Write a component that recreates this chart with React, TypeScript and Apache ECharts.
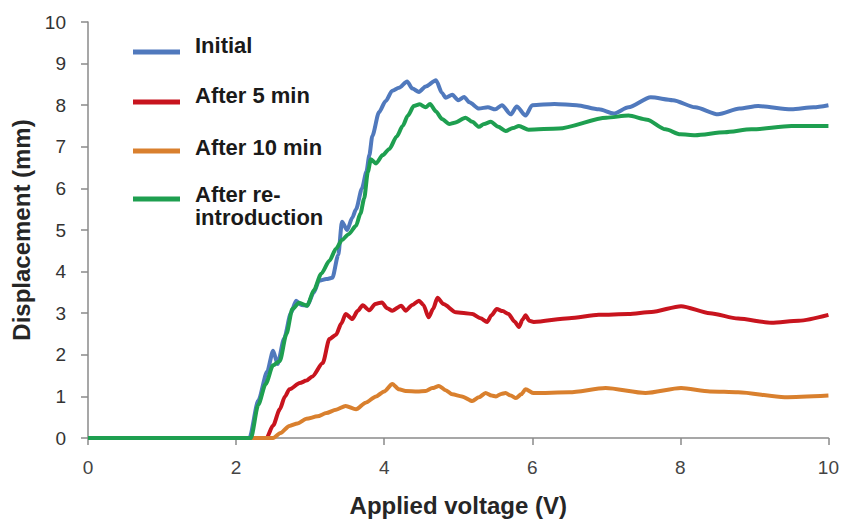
import React, { useEffect, useRef } from "react";
import * as echarts from "echarts";

// Displacement (mm) against applied voltage (V), as [V, mm] pairs
const initial: [number, number][] = [
  [0, 0], [2.18, 0], [2.3, 0.9], [2.42, 1.6], [2.5, 2.1], [2.56, 1.78], [2.65, 2.4], [2.74, 3.0],
  [2.81, 3.3], [2.88, 3.2], [2.96, 3.18], [3.05, 3.5], [3.12, 3.78], [3.22, 3.82], [3.3, 3.85],
  [3.38, 4.4], [3.43, 5.2], [3.5, 5.0], [3.57, 5.3], [3.62, 5.5], [3.7, 6.0], [3.76, 6.4],
  [3.8, 6.8], [3.84, 7.26], [3.93, 7.83], [4.02, 8.1], [4.11, 8.35], [4.2, 8.42], [4.31, 8.57],
  [4.38, 8.4], [4.47, 8.32], [4.56, 8.45], [4.7, 8.6], [4.78, 8.3], [4.83, 8.18], [4.92, 8.25],
  [5.0, 8.12], [5.08, 8.2], [5.15, 8.07], [5.28, 7.92], [5.4, 7.95], [5.5, 7.9], [5.59, 8.0],
  [5.71, 7.78], [5.79, 7.97], [5.91, 7.75], [6.0, 8.0], [6.3, 8.03], [6.6, 8.0], [6.9, 7.9],
  [7.1, 7.8], [7.3, 7.95], [7.6, 8.19], [7.9, 8.12], [8.2, 7.95], [8.51, 7.78], [8.8, 7.92],
  [9.05, 7.98], [9.5, 7.9], [9.8, 7.95], [10, 8.0],
];

const after5min: [number, number][] = [
  [0, 0], [2.41, 0], [2.5, 0.3], [2.59, 0.69], [2.66, 1.0], [2.72, 1.17], [2.86, 1.32],
  [2.95, 1.38], [3.03, 1.48], [3.17, 1.8], [3.26, 2.38], [3.35, 2.48], [3.42, 2.75], [3.48, 2.98],
  [3.57, 2.86], [3.64, 3.05], [3.71, 3.19], [3.8, 3.07], [3.88, 3.22], [3.97, 3.26], [4.04, 3.12],
  [4.11, 3.06], [4.23, 3.18], [4.29, 3.06], [4.38, 3.2], [4.47, 3.3], [4.53, 3.2], [4.6, 2.9],
  [4.66, 3.1], [4.72, 3.37], [4.8, 3.22], [4.97, 3.02], [5.1, 3.0], [5.19, 2.98], [5.3, 2.88],
  [5.39, 2.79], [5.45, 2.95], [5.52, 3.1], [5.6, 3.05], [5.68, 2.98], [5.76, 2.8], [5.82, 2.67],
  [5.87, 2.85], [5.91, 2.95], [5.96, 2.82], [6.02, 2.79], [6.5, 2.88], [6.9, 2.96], [7.3, 2.98],
  [7.61, 3.03], [8.01, 3.17], [8.4, 3.0], [8.78, 2.87], [9.23, 2.77], [9.6, 2.82], [10, 2.96],
];

const after10min: [number, number][] = [
  [0, 0], [2.5, 0], [2.6, 0.12], [2.72, 0.29], [2.83, 0.35], [2.95, 0.46], [3.1, 0.52],
  [3.22, 0.6], [3.35, 0.68], [3.48, 0.77], [3.62, 0.69], [3.75, 0.85], [3.89, 1.0], [4.0, 1.12],
  [4.11, 1.3], [4.2, 1.17], [4.29, 1.13], [4.45, 1.12], [4.56, 1.13], [4.65, 1.2], [4.74, 1.25],
  [4.83, 1.15], [4.92, 1.05], [5.05, 1.0], [5.19, 0.89], [5.28, 0.98], [5.37, 1.08], [5.45, 1.02],
  [5.51, 1.0], [5.58, 1.06], [5.64, 1.08], [5.71, 1.02], [5.78, 0.96], [5.85, 1.05], [5.91, 1.17],
  [6.02, 1.08], [6.5, 1.1], [6.99, 1.2], [7.53, 1.08], [8.01, 1.2], [8.4, 1.12], [8.78, 1.1],
  [9.41, 0.98], [10, 1.02],
];

const afterReintroduction: [number, number][] = [
  [0, 0], [2.2, 0], [2.3, 0.8], [2.4, 1.3], [2.5, 1.75], [2.59, 1.85], [2.68, 2.5], [2.76, 3.1],
  [2.85, 3.25], [2.96, 3.18], [3.05, 3.55], [3.15, 3.95], [3.26, 4.26], [3.35, 4.55], [3.43, 4.76],
  [3.52, 4.9], [3.62, 5.1], [3.68, 5.4], [3.73, 5.76], [3.78, 6.4], [3.82, 6.7], [3.89, 6.6],
  [3.98, 6.8], [4.07, 6.95], [4.17, 7.25], [4.25, 7.5], [4.32, 7.75], [4.4, 7.98], [4.48, 8.02],
  [4.56, 7.95], [4.62, 8.03], [4.7, 7.85], [4.78, 7.67], [4.88, 7.55], [4.95, 7.58], [5.1, 7.7],
  [5.19, 7.6], [5.28, 7.48], [5.35, 7.55], [5.44, 7.6], [5.54, 7.48], [5.64, 7.38], [5.74, 7.45],
  [5.82, 7.5], [5.95, 7.41], [6.36, 7.44], [7.0, 7.7], [7.3, 7.75], [7.55, 7.65], [7.8, 7.42],
  [8.0, 7.3], [8.2, 7.28], [8.6, 7.35], [8.96, 7.42], [9.5, 7.5], [10, 7.5],
];

// Key entries; the last one is written over two lines
const seriesNames = ["Initial", "After 5 min", "After 10 min", "After re-introduction"];
const legendLines = [["Initial"], ["After 5 min"], ["After 10 min"], ["After re-", "introduction"]];
const seriesColors = ["#5079bd", "#c8141e", "#d9802e", "#1e9f50"];
const seriesData = [initial, after5min, after10min, afterReintroduction];

const xAxisTitle = "Applied voltage (V)";
const yAxisTitle = "Displacement (mm)";

const FONT = "'Liberation Sans', Arial, sans-serif";

export default function App() {
  const ref = useRef<HTMLDivElement>(null);

  useEffect(() => {
    if (!ref.current) return;
    const chart = echarts.init(ref.current, undefined, { renderer: "svg" });

    // Hand-placed key in the upper left of the plot
    const legendRows = [
      { lineY: 52, textY: 45 },
      { lineY: 102, textY: 95 },
      { lineY: 151, textY: 147 },
      { lineY: 199, textY: 194 },
    ];
    const legendGraphics: any[] = [];
    legendLines.forEach((lines, i) => {
      legendGraphics.push({
        type: "rect",
        shape: { x: 133, y: legendRows[i].lineY - 2.5, width: 47, height: 5 },
        style: { fill: seriesColors[i] },
      });
      lines.forEach((line, j) => {
        legendGraphics.push({
          type: "text",
          x: 195,
          y: legendRows[i].textY + j * 23,
          style: {
            text: line,
            font: `bold 22px ${FONT}`,
            fill: "#1a1a1a",
            verticalAlign: "middle",
          },
        });
      });
    });

    chart.setOption({
      animation: false,
      backgroundColor: "#ffffff",
      grid: { left: 88, right: 11, top: 22, bottom: 80, containLabel: false },
      xAxis: {
        type: "value",
        min: 0,
        max: 10,
        interval: 2,
        name: xAxisTitle,
        nameLocation: "middle",
        nameGap: 55,
        nameTextStyle: { fontFamily: FONT, fontWeight: "bold", fontSize: 24, color: "#262626" },
        axisLine: { show: true, lineStyle: { color: "#8a8a8a", width: 1.5 } },
        axisTick: { show: true, length: 7, lineStyle: { color: "#8a8a8a", width: 1.5 } },
        axisLabel: { fontFamily: FONT, fontSize: 19, color: "#444", margin: 20 },
        splitLine: { show: false },
      },
      yAxis: {
        type: "value",
        min: 0,
        max: 10,
        interval: 1,
        name: yAxisTitle,
        nameLocation: "middle",
        nameGap: 50,
        nameTextStyle: { fontFamily: FONT, fontWeight: "bold", fontSize: 24, color: "#262626" },
        axisLine: { show: true, lineStyle: { color: "#8a8a8a", width: 1.5 } },
        axisTick: { show: true, length: 7, lineStyle: { color: "#8a8a8a", width: 1.5 } },
        axisLabel: { fontFamily: FONT, fontSize: 19, color: "#333", margin: 22 },
        splitLine: { show: false },
      },
      series: seriesData.map((data, i) => ({
        name: seriesNames[i],
        type: "line",
        data,
        showSymbol: false,
        smooth: 0.25,
        smoothMonotone: "x",
        lineStyle: { color: seriesColors[i], width: 4 },
        itemStyle: { color: seriesColors[i] },
        z: 2 + i,
      })),
      graphic: legendGraphics,
    });

    return () => chart.dispose();
  }, []);

  return (
    <div
      ref={ref}
      style={{ position: "absolute", left: 0, top: 0, width: 842, height: 522 }}
    />
  );
}
